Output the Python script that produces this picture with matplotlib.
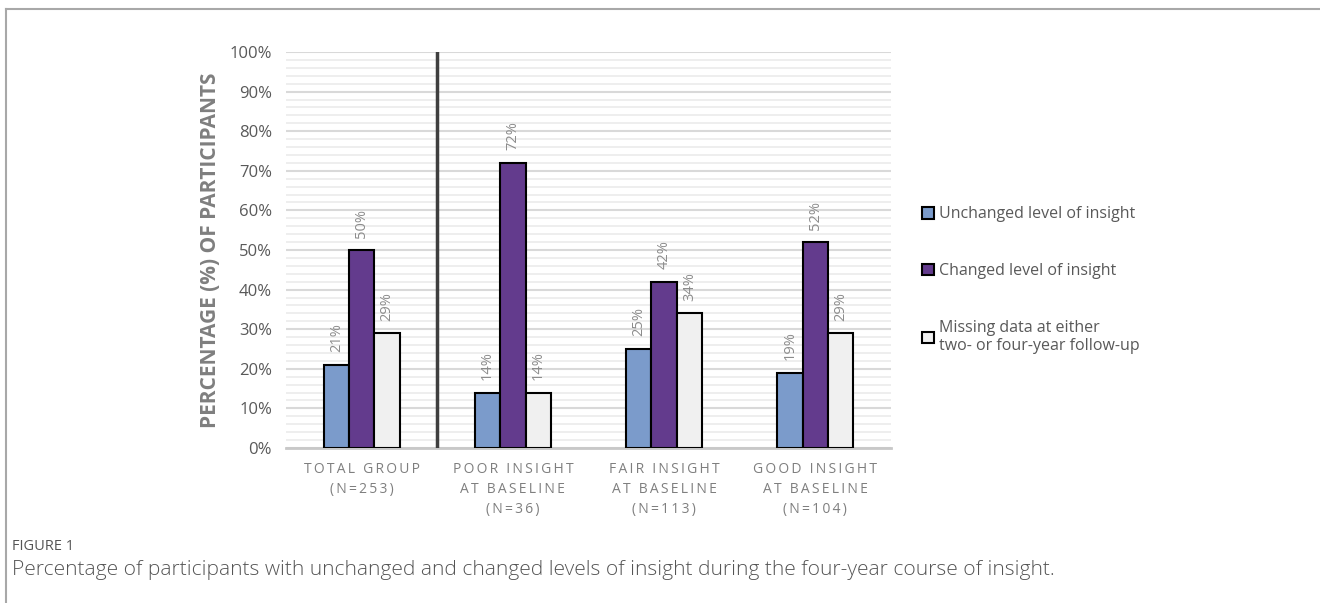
import matplotlib
matplotlib.use('Agg')
import matplotlib.pyplot as plt
from matplotlib.lines import Line2D
from matplotlib.patches import Patch
import numpy as np

# data
groups = ['TOTAL GROUP\n(N=253)', 'POOR INSIGHT\nAT BASELINE\n(N=36)',
          'FAIR INSIGHT\nAT BASELINE\n(N=113)', 'GOOD INSIGHT\nAT BASELINE\n(N=104)']
series = ['Unchanged level of insight', 'Changed level of insight',
          'Missing data at either\ntwo- or four-year follow-up']
unchanged = [21, 14, 25, 19]
changed = [50, 72, 42, 52]
missing = [29, 14, 34, 29]
colors = ['#7b9bcb', '#633b8d', '#f0f0f0']

W, H = 1320, 603
plt.rcParams['font.family'] = ['Open Sans', 'DejaVu Sans']

def spaced(s):
    # emulate the wide letter spacing of the category labels
    return '\n'.join('\u2009'.join(ch for ch in line) for line in s.split('\n'))

fig = plt.figure(figsize=(W/100, H/100), dpi=100)
ax = fig.add_axes([286/W, 1-448/H, (891-286)/W, (448-52)/H])

x = np.arange(len(groups))
bw = 0.167
for i, (vals, c) in enumerate(zip([unchanged, changed, missing], colors)):
    bars = ax.bar(x + (i-1)*bw, vals, bw, color=c, edgecolor='black', linewidth=1.5,
                  zorder=3, label=series[i])
    for b, v in zip(bars, vals):
        ax.annotate('%d%%' % v, (b.get_x()+b.get_width()/2, v), xytext=(0, 9),
                    textcoords='offset points', rotation=90, ha='center', va='bottom',
                    fontsize=10.5, color='#8c8c8c')

ax.set_xlim(-0.5, 3.5)
ax.set_ylim(0, 100)
ax.set_yticks(np.arange(0, 101, 10))
ax.set_yticklabels(['%d%%' % t for t in range(0, 101, 10)])
ax.set_yticks(np.arange(0, 101, 2), minor=True)
ax.grid(axis='y', which='major', color='#d9d9d9', linewidth=1.5, zorder=0)
ax.grid(axis='y', which='minor', color='#ededed', linewidth=1.3, zorder=0)
ax.set_axisbelow(True)
for s in ['top', 'right', 'left']:
    ax.spines[s].set_visible(False)
ax.spines['bottom'].set_color('#c8c8c8')
ax.spines['bottom'].set_linewidth(2)
ax.tick_params(axis='y', which='both', length=0, labelsize=12, colors='#595959', pad=10)
ax.tick_params(axis='x', length=0, labelsize=10, colors='#7f7f7f', pad=10)
ax.set_xticks(x)
ax.set_xticklabels([spaced(g) for g in groups], linespacing=1.45)
ax.axvline(0.5, color='#3f3f3f', linewidth=2.5, zorder=4)

ax.set_ylabel('PERCENTAGE (%) OF PARTICIPANTS', fontsize=15, fontweight='bold',
              color='#7f7f7f', labelpad=6)

handles = [Patch(facecolor=c, edgecolor='black', linewidth=1.5) for c in colors]
fig.legend(handles, series, loc='upper left', bbox_to_anchor=(908/W, 1-192/H),
           frameon=False, fontsize=11.5, labelcolor='#595959', handlelength=0.75,
           handleheight=0.75, handletextpad=0.3, labelspacing=2.55)

# outer frame (top and left edges only)
fig.add_artist(Line2D([6/W, 1], [1-9/H, 1-9/H], color='#a8a8a8', linewidth=1.5))
fig.add_artist(Line2D([6/W, 6/W], [0, 1-9/H], color='#a8a8a8', linewidth=1.5))

fig.text(12/W, 1-547/H, 'FIGURE 1', fontsize=10.5, color='#555555', va='center')
fig.text(12/W, 1-570/H, 'Percentage of participants with unchanged and changed levels of '
         'insight during the four-year course of insight.', fontsize=15.1,
         color='#555555', va='center', fontweight='light')

fig.savefig('out.png', dpi=100)
